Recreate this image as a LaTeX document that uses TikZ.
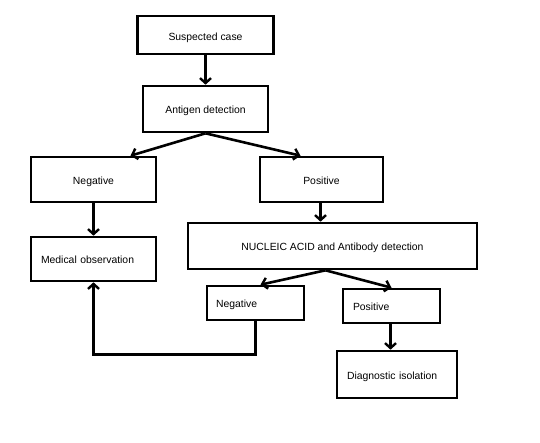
\documentclass[tikz,border=0pt]{standalone}
\usepackage{fontspec}
\setmainfont{Liberation Sans}
\usetikzlibrary{arrows.meta}
\tikzset{
  box/.style={draw, line width=2.6pt, rectangle, inner sep=0pt, text height=9pt, text depth=0pt, font=\fontsize{10.4}{12}\selectfont},
  lbox/.style={box, align=left},
  arr/.style={line width=2.6pt, -{Straight Barb[length=5pt,width=11pt,line width=2.4pt]}},
  lin/.style={line width=2.6pt}
}
\begin{document}
\begin{tikzpicture}[x=1pt,y=-1pt]
\useasboundingbox (0,0) rectangle (540,442);
\node[box, minimum width=136pt, minimum height=38pt, text height=11pt] (sus) at (205.5,35) {Suspected case};
\node[box, minimum width=125pt, minimum height=46pt] (ant) at (205.5,109) {Antigen detection};
\node[box, minimum width=125pt, minimum height=45pt] (neg1) at (93.5,179.5) {Negative};
\node[box, minimum width=123pt, minimum height=45pt] (pos1) at (321.5,179.5) {Positive};
\node[lbox, minimum width=125pt, minimum height=44pt, text width=105pt] (med) at (93.5,259) {Medical observation};
\node[box, minimum width=289pt, minimum height=46pt] (nuc) at (332.5,246) {NUCLEIC ACID and Antibody detection};
\node[lbox, minimum width=97pt, minimum height=34pt, text width=79pt] (neg2) at (255.5,303) {Negative};
\node[lbox, minimum width=97pt, minimum height=34pt, text width=77pt] (pos2) at (391.5,306) {Positive};
\node[lbox, minimum width=120pt, minimum height=47pt, text width=100pt] (diag) at (397,374.5) {Diagnostic isolation};
\draw[arr] (sus.south) -- (ant.north);
\draw[arr] (ant.south) -- ([xshift=37pt]neg1.north);
\draw[arr] (ant.south) -- ([xshift=-21pt]pos1.north);
\draw[arr] (neg1.south) -- (med.north);
\draw[arr] ([xshift=-1pt]pos1.south) -- ([xshift=-1pt]pos1.south |- nuc.north);
\draw[arr] ([xshift=-7pt]nuc.south) -- ([xshift=5pt]neg2.north);
\draw[arr] ([xshift=-7pt]nuc.south) -- ([xshift=0pt]pos2.north);
\draw[arr] ([xshift=-1pt]pos2.south) -- ([xshift=-1pt]pos2.south |- diag.north);
\draw[arr] (neg2.south) -- ++(0,33) -| (med.south);
\end{tikzpicture}
\end{document}
